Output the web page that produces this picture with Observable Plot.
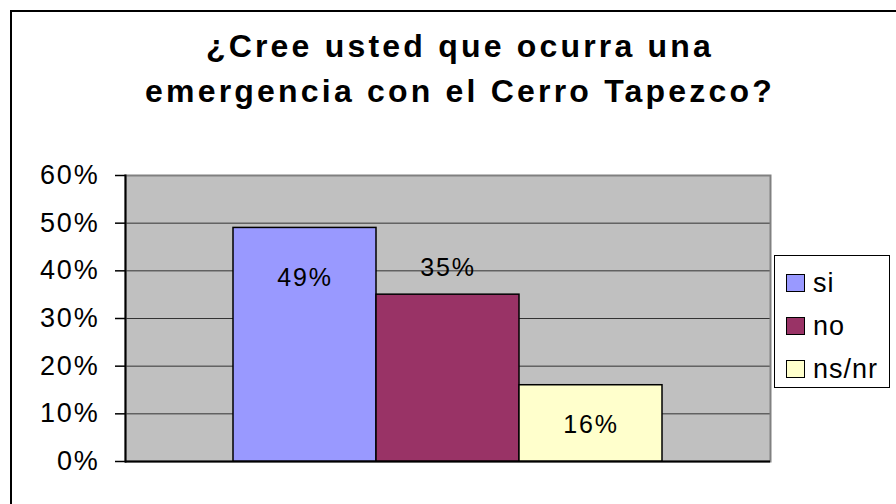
<!DOCTYPE html>
<html>
<head>
<meta charset="utf-8">
<script src="https://cdn.jsdelivr.net/npm/d3@7"></script>
<script src="https://cdn.jsdelivr.net/npm/@observablehq/plot@0.6"></script>
<style>
  html, body { margin: 0; padding: 0; background: #fff; }
  #wrap { position: relative; width: 896px; height: 504px; overflow: hidden; font-family: "Liberation Sans", Arial, sans-serif; }
  #border { position: absolute; left: 10px; top: 10px; width: 1000px; height: 1000px; border-left: 2px solid #000; border-top: 2px solid #000; box-sizing: border-box; }
  #title { position: absolute; left: 0; top: 24px; width: 920px; text-align: center; font-weight: bold; font-size: 32px; line-height: 45px; letter-spacing: 3.2px; color: #000; }
  #chart { position: absolute; left: 0; top: 0; }
  #chart svg text { letter-spacing: 1.8px; }
  #legend { position: absolute; left: 774px; top: 255px; width: 116px; height: 133px; border: 1px solid #000; background: #fff; box-sizing: border-box; }
  .item { position: absolute; left: 11px; height: 30px; display: flex; align-items: center; font-size: 27px; letter-spacing: 1px; color: #000; }
  .sw { width: 19px; height: 18px; border: 1.5px solid #000; margin-right: 8px; box-sizing: border-box; }
</style>
</head>
<body>
<div id="wrap">
  <div id="border"></div>
  <div id="title"></div>
  <div id="chart"></div>
  <div id="legend"></div>
</div>
<script>
const titleLines = ["¿Cree usted que ocurra una", "emergencia con el Cerro Tapezco?"];
const categories = ["si", "no", "ns/nr"];
const values = [0.49, 0.35, 0.16];
const colors = ["#9999FF", "#993366", "#FFFFCC"];
const yTicks = [0, 0.1, 0.2, 0.3, 0.4, 0.5, 0.6];
const gridTicks = [0.1, 0.2, 0.3, 0.4, 0.5];

document.getElementById("title").innerHTML = titleLines.join("<br>");

const pct = d3.format(".0%");
const rows = categories.map((c, i) => ({cat: c, val: values[i]}));
const labelDy = {"si": 50, "no": -27, "ns/nr": 40};

const chart = Plot.plot({
  width: 896,
  height: 504,
  marginLeft: 125,
  marginRight: 126,
  marginTop: 175,
  marginBottom: 43,
  style: {background: "transparent", fontFamily: "'Liberation Sans', Arial, sans-serif", fontSize: "26px", color: "#000", overflow: "visible"},
  x: {domain: categories, range: [232, 662], padding: 0, axis: null},
  y: {domain: [0, 0.6], axis: null},
  color: {domain: categories, range: colors},
  marks: [
    Plot.frame({fill: "#C0C0C0", stroke: null}),
    Plot.ruleY(gridTicks, {stroke: "#333", strokeWidth: 1}),
    Plot.frame({stroke: "#808080", strokeWidth: 2}),
    Plot.axisY({ticks: yTicks, tickFormat: pct, tickSize: 10, tickPadding: 16, fontSize: 27, stroke: "#000", strokeWidth: 1.5, fill: "#000", label: null}),
    Plot.frame({anchor: "left", stroke: "#000", strokeWidth: 2}),
    Plot.ruleY([0], {stroke: "#000", strokeWidth: 2}),
    Plot.barY(rows, {x: "cat", y: "val", fill: "cat", stroke: "#000", strokeWidth: 1.5}),
    ...categories.map(c => Plot.text(rows.filter(r => r.cat === c), {
      x: "cat", y: "val", text: d => pct(d.val), dy: labelDy[c], fontSize: 25, fill: "#000"
    }))
  ]
});
document.getElementById("chart").appendChild(chart);

const legend = document.getElementById("legend");
categories.forEach((c, i) => {
  const item = document.createElement("div");
  item.className = "item";
  item.style.top = (12 + i * 43) + "px";
  const sw = document.createElement("div");
  sw.className = "sw";
  sw.style.background = colors[i];
  const t = document.createElement("span");
  t.textContent = c;
  item.appendChild(sw);
  item.appendChild(t);
  legend.appendChild(item);
});
</script>
</body>
</html>
